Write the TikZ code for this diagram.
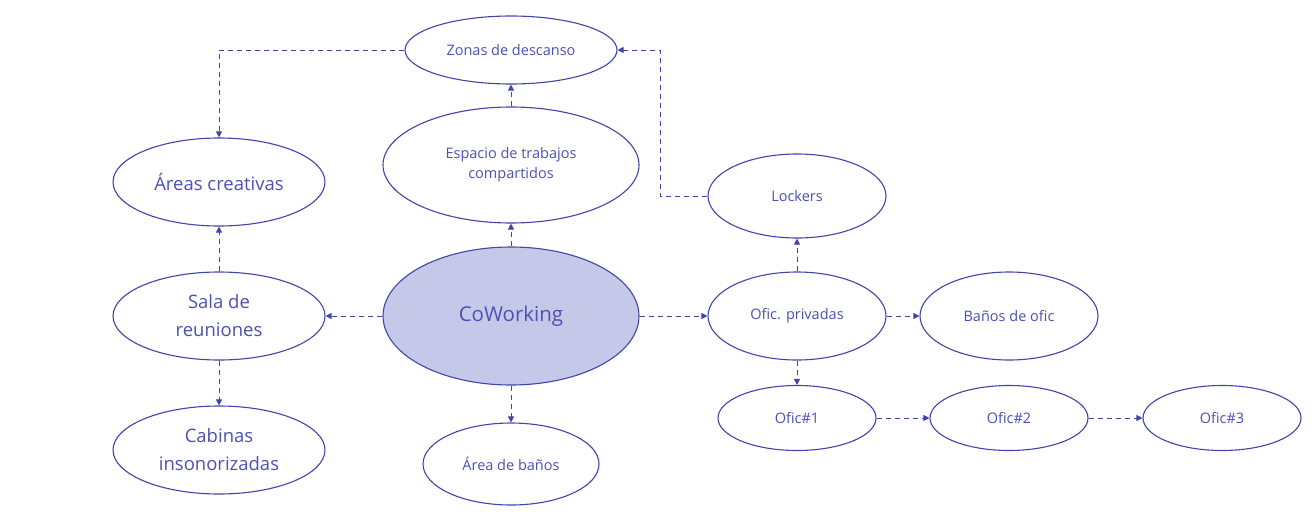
\documentclass[tikz,border=0pt]{standalone}
\usepackage{fontspec}
\setmainfont{Open Sans}
\usetikzlibrary{arrows.meta,shapes.geometric}
\definecolor{ln}{HTML}{4046A8}
\definecolor{tx}{HTML}{4C51B3}
\definecolor{fl}{HTML}{C6C8E9}
\tikzset{
  el/.style={ellipse,draw=ln,line width=1.1pt,inner sep=0pt,text=tx,align=center,fill=white},
  fs/.style={font=\fontsize{14.5}{20}\selectfont},
  fm/.style={font=\fontsize{18.5}{28}\selectfont},
  fb/.style={font=\fontsize{20.5}{26}\selectfont},
  con/.style={draw=ln,line width=1pt,dash pattern=on 5pt off 4pt,-{Triangle[length=6pt,width=6pt]}},
}
\begin{document}
\begin{tikzpicture}[x=1pt,y=-1pt]
\useasboundingbox (0,0) rectangle (1316,514);
\fill[white] (0,0) rectangle (1316,514);
\node[el,fs,minimum width=212pt,minimum height=68pt] (zon) at (511,50) {Zonas de descanso};
\node[el,fs,minimum width=256pt,minimum height=116pt] (esp) at (511,165) {Espacio de trabajos\\compartidos};
\node[el,fm,minimum width=212pt,minimum height=88pt] (are) at (219,182) {Áreas creativas};
\node[el,fm,minimum width=212pt,minimum height=88pt] (sal) at (219,316) {Sala de\\reuniones};
\node[el,fm,minimum width=212pt,minimum height=88pt] (cab) at (219,450) {Cabinas\\insonorizadas};
\node[el,fb,fill=fl,minimum width=256pt,minimum height=138pt] (cow) at (511,316) {CoWorking};
\node[el,fs,minimum width=176pt,minimum height=82pt] (ban) at (511,464) {Área de baños};
\node[el,fs,minimum width=178pt,minimum height=84pt] (loc) at (797,196) {Lockers};
\node[el,fs,minimum width=178pt,minimum height=88pt] (ofp) at (797,316) {Ofic. privadas};
\node[el,fs,minimum width=178pt,minimum height=88pt] (bof) at (1009,316) {Baños de ofic};
\node[el,fs,minimum width=158pt,minimum height=65pt] (o1) at (797,418) {Ofic\#1};
\node[el,fs,minimum width=158pt,minimum height=65pt] (o2) at (1009,418) {Ofic\#2};
\node[el,fs,minimum width=158pt,minimum height=65pt] (o3) at (1222,418) {Ofic\#3};
\draw[con] (zon.west) -| (are.north);
\draw[con] (loc.west) -- ++(-47,0) |- (zon.east);
\draw[con] (esp.north) -- (zon.south);
\draw[con] (cow.north) -- (esp.south);
\draw[con] (cow.west) -- (sal.east);
\draw[con] (sal.north) -- (are.south);
\draw[con] (sal.south) -- (cab.north);
\draw[con] (cow.south) -- (ban.north);
\draw[con] (cow.east) -- (ofp.west);
\draw[con] (ofp.north) -- (loc.south);
\draw[con] (ofp.east) -- (bof.west);
\draw[con] (ofp.south) -- (o1.north);
\draw[con] (o1.east) -- (o2.west);
\draw[con] (o2.east) -- (o3.west);
\end{tikzpicture}
\end{document}
